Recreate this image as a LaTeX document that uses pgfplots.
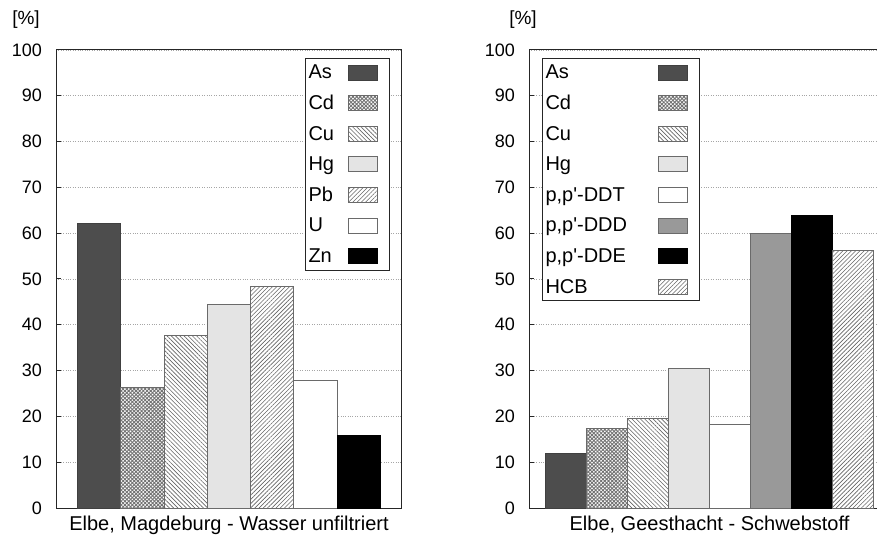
\documentclass[border=0pt]{standalone}
\usepackage{pgfplots}
\pgfplotsset{compat=1.18}
\usepackage{fontspec}
\setmainfont{Liberation Sans}
\usetikzlibrary{patterns.meta}
\definecolor{cAs}{HTML}{4D4D4D}
\definecolor{cHg}{HTML}{E4E4E4}
\definecolor{cDDD}{HTML}{999999}
\definecolor{edge}{HTML}{6A6A6A}
\newcommand{\fa}{\fontsize{18bp}{21bp}\selectfont}
\newcommand{\fb}{\fontsize{20bp}{23bp}\selectfont}
\pgfplotsset{
  bb/.style={ybar, bar width=1, bar shift=0pt, line width=0.8bp,
    legend image code/.code={\draw[##1] (0bp,-7.5bp) rectangle (29bp,7.5bp);
      \pgfpathmoveto{\pgfqpoint{38bp}{0bp}}\pgfusepath{discard}}},
  pAs/.style={bb, fill=cAs, draw=black!75},
  pCd/.style={bb, draw=edge, fill=white, postaction={pattern={Hatch[angle=45,distance=2.6bp,line width=0.9bp]}, pattern color=black!55}},
  pCu/.style={bb, draw=edge, fill=white, postaction={pattern={Lines[angle=-45,distance=3bp,line width=0.6bp]}, pattern color=black!60}},
  pHg/.style={bb, draw=edge, fill=cHg},
  pPb/.style={bb, draw=edge, fill=white, postaction={pattern={Lines[angle=45,distance=3bp,line width=0.6bp]}, pattern color=black!60}},
  pU/.style={bb, draw=edge, fill=white},
  pZn/.style={bb, draw=black, fill=black},
  pDDD/.style={bb, draw=edge, fill=cDDD},
  base/.style={
    font=\fb,
    scale only axis, height=458bp, ymin=0, ymax=100, ytick={0,10,...,100},
    xtick=\empty, ytick pos=left, tick align=inside, major tick length=5bp,
    ymajorgrids, major grid style={dotted, black!35, line width=0.6bp},
    axis line style={line width=1bp, black!85}, tick style={line width=1bp, black!85},
    yticklabel style={anchor=east, inner sep=0pt, xshift=-14bp, font=\fa},
    /pgf/number format/assume math mode=true,
    clip=false,
    legend plot pos=right,
    legend cell align=left,
    legend style={draw=black!85, line width=1bp, inner xsep=3bp, inner ysep=6bp,
      row sep=14.6bp, font=\fb,
      nodes={inner sep=0pt, text height=14.5bp, text depth=1.5bp}},
    xlabel style={at={(axis description cs:0.5,0)}, anchor=center, yshift=-17bp, font=\fb},
  }
}
\begin{document}
\begin{tikzpicture}[font=\fb, x=1bp, y=1bp]
\begin{axis}[base, at={(56bp,30bp)}, anchor=south west, width=346bp,
  xmin=0, xmax=8,
  xlabel={Elbe, Magdeburg - Wasser unfiltriert},
  legend style={at={(axis description cs:1,1)}, anchor=north east, xshift=-12bp, yshift=-8bp, column sep=14bp}]
\addplot[pAs] coordinates {(1,62.2)};
\addplot[pCd] coordinates {(2,26.3)};
\addplot[pCu] coordinates {(3,37.6)};
\addplot[pHg] coordinates {(4,44.5)};
\addplot[pPb] coordinates {(5,48.4)};
\addplot[pU] coordinates {(6,27.9)};
\addplot[pZn] coordinates {(7,15.9)};
\legend{As,Cd,Cu,Hg,Pb,U,Zn}
\node[font=\fontsize{19bp}{22bp}\selectfont] at (axis description cs:0,1) [xshift=-30bp, yshift=30bp] {[\%]};
\end{axis}
\begin{axis}[base, at={(529bp,30bp)}, anchor=south west, width=361bp,
  xmin=0.1, xmax=8.9,
  xlabel={Elbe, Geesthacht - Schwebstoff},
  legend style={at={(axis description cs:0,1)}, anchor=north west, xshift=13bp, yshift=-8bp, column sep=31bp}]
\addplot[pAs] coordinates {(1,11.9)};
\addplot[pCd] coordinates {(2,17.3)};
\addplot[pCu] coordinates {(3,19.6)};
\addplot[pHg] coordinates {(4,30.5)};
\addplot[pU] coordinates {(5,18.3)};
\addplot[pDDD] coordinates {(6,59.9)};
\addplot[pZn] coordinates {(7,63.8)};
\addplot[pPb] coordinates {(8,56.3)};
\legend{As,Cd,Cu,Hg,{p,p\textquotesingle-DDT},{p,p\textquotesingle-DDD},{p,p\textquotesingle-DDE},HCB}
\node[font=\fontsize{19bp}{22bp}\selectfont] at (axis description cs:0,1) [xshift=-6bp, yshift=30bp] {[\%]};
\end{axis}
\pgfresetboundingbox
\path[use as bounding box] (0,0) rectangle (877bp,538bp);
\end{tikzpicture}
\end{document}
